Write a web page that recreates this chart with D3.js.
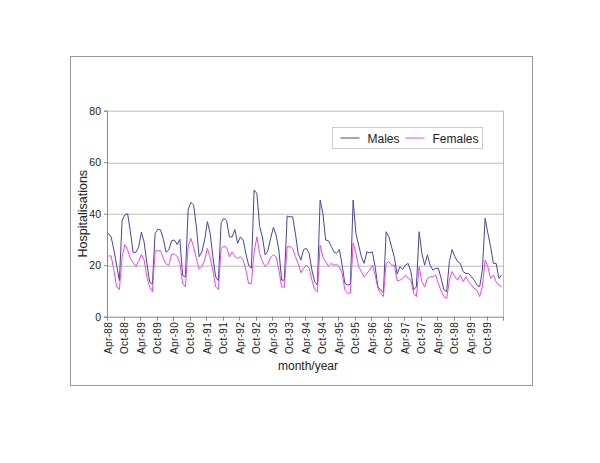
<!DOCTYPE html>
<html>
<head>
<meta charset="utf-8">
<script src="https://cdn.jsdelivr.net/npm/d3@7/dist/d3.min.js"></script>
<style>
  body { margin: 0; background: #fff; }
  text { font-family: "Liberation Sans", Arial, sans-serif; fill: #222; }
</style>
</head>
<body>
<div id="chart"></div>
<script>
// monthly hospitalisations, Apr-88 .. Mar-00
var males = [
  32.4, 31, 26, 20, 14, 37.5, 39.5, 40, 33, 25, 25, 27,
  32.8, 29, 20.7, 13.6, 12.7, 32.4, 34, 33.7, 30, 25, 26, 29.5,
  29.8, 28, 30, 16, 15.5, 41.4, 44.4, 43.4, 35, 23.3, 25.2, 29.8,
  36.9, 32.4, 23.3, 15.5, 14, 36.5, 38.2, 37.3, 31, 31, 33.9, 28.5,
  31, 29.8, 24.6, 20, 18.8, 49.2, 47.9, 35, 31, 24, 25.6, 30.4,
  34.7, 31.7, 25.9, 14.2, 14.2, 39.1, 38.8, 38.8, 32.4, 24.6, 22, 26.1,
  26.5, 24.6, 18.1, 13.6, 12.3, 45.3, 40.1, 29.8, 29.5, 27.4, 25.2, 24.6,
  26.1, 20, 12.9, 12.3, 12.5, 45.3, 32.4, 27.8, 23.3, 20.7, 25.2, 24.8,
  25.2, 19.4, 11.6, 10.4, 9.3, 33, 31, 27, 23, 16.5, 19.4, 18.4,
  20, 20.7, 17.5, 10.4, 11.6, 33, 24.6, 20, 24, 20, 18.1, 18.8,
  18.8, 14.9, 10.4, 9.7, 21.4, 26.1, 23.3, 21.4, 20.7, 17.5, 16.8, 16.8,
  15.5, 14.2, 12.3, 11.6, 18.1, 38.2, 32.4, 27.2, 20.7, 20.7, 14.9, 16.2
];
var females = [
  23.6, 23.6, 18, 11.6, 10.6, 23.3, 28, 26, 22.6, 21, 19.4, 21.5,
  24.2, 22, 15.5, 11.6, 9.7, 25.6, 25.6, 25.6, 22.5, 20.5, 20, 24.3,
  24.3, 23.5, 20.7, 12.9, 11.6, 27.2, 30.4, 27, 22.6, 18.4, 19.5, 22,
  26.5, 23, 18, 11.6, 10.6, 26.5, 27.4, 26.9, 23.3, 25.2, 23.3, 22.6,
  23.3, 22, 18.1, 12.9, 12.9, 25.2, 31, 24.6, 21.4, 19.5, 20.5, 23,
  24, 23.3, 18.1, 11.6, 11.4, 27.2, 27.2, 26.5, 23.3, 20.7, 17.1, 18.8,
  20, 18.8, 14.2, 10.6, 9.7, 27.8, 23.3, 21.4, 19.7, 20.7, 20, 20.3,
  19.4, 16.8, 10.4, 9.1, 9.2, 28.7, 24.6, 19.4, 17.5, 15.5, 16.8, 18.1,
  20, 16.2, 11, 9.1, 7.8, 20.7, 21.4, 20, 20, 14, 14.2, 14.9,
  16.2, 15, 14.2, 9.1, 7.8, 19.4, 13.6, 11.6, 14.9, 15.5, 15.5, 16.2,
  12.9, 10, 7.8, 7.1, 14.2, 17.5, 15.5, 14.2, 16.2, 13.6, 15.5, 13.6,
  12.3, 11, 10.4, 7.8, 11.6, 22, 19.4, 14.9, 16.2, 13.6, 12.3, 11.6
];
var monthNames = ["Jan", "Feb", "Mar", "Apr", "May", "Jun", "Jul", "Aug", "Sep", "Oct", "Nov", "Dec"];
var yTicks = [0, 20, 40, 60, 80];
var seriesNames = ["Males", "Females"];
var seriesColors = ["#46469a", "#ee44ee"];

// category labels like "Apr-88"
var months = males.map(function (d, i) {
  var m = (3 + i) % 12, y = 88 + Math.floor((3 + i) / 12);
  return monthNames[m] + "-" + String(y % 100).padStart(2, "0");
});
var tickLabels = months.filter(function (d, i) { return i % 6 === 0; });

var width = 600, height = 463;
var margin = {left: 107, top: 110.7, right: 97, bottom: 146.3};
var pw = width - margin.left - margin.right,
    ph = height - margin.top - margin.bottom;

var svg = d3.select("#chart").append("svg")
  .attr("width", width)
  .attr("height", height);

// outer frame
svg.append("rect")
  .attr("x", 70.5).attr("y", 56.5)
  .attr("width", 462).attr("height", 329)
  .attr("fill", "none").attr("stroke", "#999");

var g = svg.append("g").attr("transform", "translate(" + margin.left + "," + margin.top + ")");

var x = d3.scaleBand().domain(months).range([0, pw]);
var y = d3.scaleLinear().domain([0, 80]).range([ph, 0]);

// gridlines
g.selectAll(".grid").data(yTicks.slice(1)).enter().append("line")
  .attr("x1", 0).attr("x2", pw)
  .attr("y1", function (d) { return Math.round(y(d)) + 0.5; })
  .attr("y2", function (d) { return Math.round(y(d)) + 0.5; })
  .attr("stroke", "#bbb");

// plot right border
g.append("line")
  .attr("x1", pw + 0.5).attr("x2", pw + 0.5)
  .attr("y1", 0).attr("y2", ph)
  .attr("stroke", "#bbb");

// y axis
var yAxis = g.append("g")
  .call(d3.axisLeft(y).tickValues(yTicks).tickSize(3).tickPadding(3));
yAxis.select(".domain").attr("stroke", "#888");
yAxis.selectAll(".tick line").attr("stroke", "#888");
yAxis.selectAll("text").style("font-size", "10.5px").attr("fill", "#222");

// x axis, labels every 6 months
var xAxis = g.append("g").attr("transform", "translate(0," + ph + ")")
  .call(d3.axisBottom(x).tickValues(tickLabels).tickSize(0).tickPadding(4));
xAxis.select(".domain").attr("stroke", "#888");
xAxis.selectAll("text")
  .style("font-size", "10px")
  .style("letter-spacing", "0.4px")
  .attr("fill", "#222")
  .attr("transform", "rotate(-90)")
  .attr("text-anchor", "end")
  .attr("x", -5).attr("y", 0).attr("dy", "0.35em");

// tick marks between 6-month groups
var bounds = d3.range(0, months.length + 1, 6);
g.selectAll(".xtick").data(bounds).enter().append("line")
  .attr("x1", function (d) { return Math.round(d * x.step()) + 0.5; })
  .attr("x2", function (d) { return Math.round(d * x.step()) + 0.5; })
  .attr("y1", ph).attr("y2", ph + 4)
  .attr("stroke", "#888");

// lines
var line = d3.line()
  .x(function (d, i) { return x(months[i]) + x.bandwidth() / 2; })
  .y(function (d) { return y(d); });

[males, females].forEach(function (s, k) {
  g.append("path")
    .datum(s)
    .attr("d", line)
    .attr("fill", "none")
    .attr("stroke", seriesColors[k])
    .attr("stroke-width", 1);
});

// axis titles
svg.append("text")
  .attr("transform", "translate(87," + (margin.top + ph / 2) + ") rotate(-90)")
  .attr("text-anchor", "middle")
  .style("font-size", "12.5px")
  .text("Hospitalisations");

svg.append("text")
  .attr("x", 308).attr("y", 370)
  .attr("text-anchor", "middle")
  .style("font-size", "12px")
  .text("month/year");

// legend
var leg = svg.append("g").attr("transform", "translate(332.5,127.5)");
leg.append("rect")
  .attr("width", 150).attr("height", 21)
  .attr("fill", "#fff").attr("stroke", "#ccc");
var legX = [8, 73];
seriesNames.forEach(function (n, k) {
  leg.append("line")
    .attr("x1", legX[k]).attr("x2", legX[k] + 19)
    .attr("y1", 10.5).attr("y2", 10.5)
    .attr("stroke", seriesColors[k]);
  leg.append("text")
    .attr("x", legX[k] + 27).attr("y", 15)
    .style("font-size", "12px")
    .text(n);
});
</script>
</body>
</html>
